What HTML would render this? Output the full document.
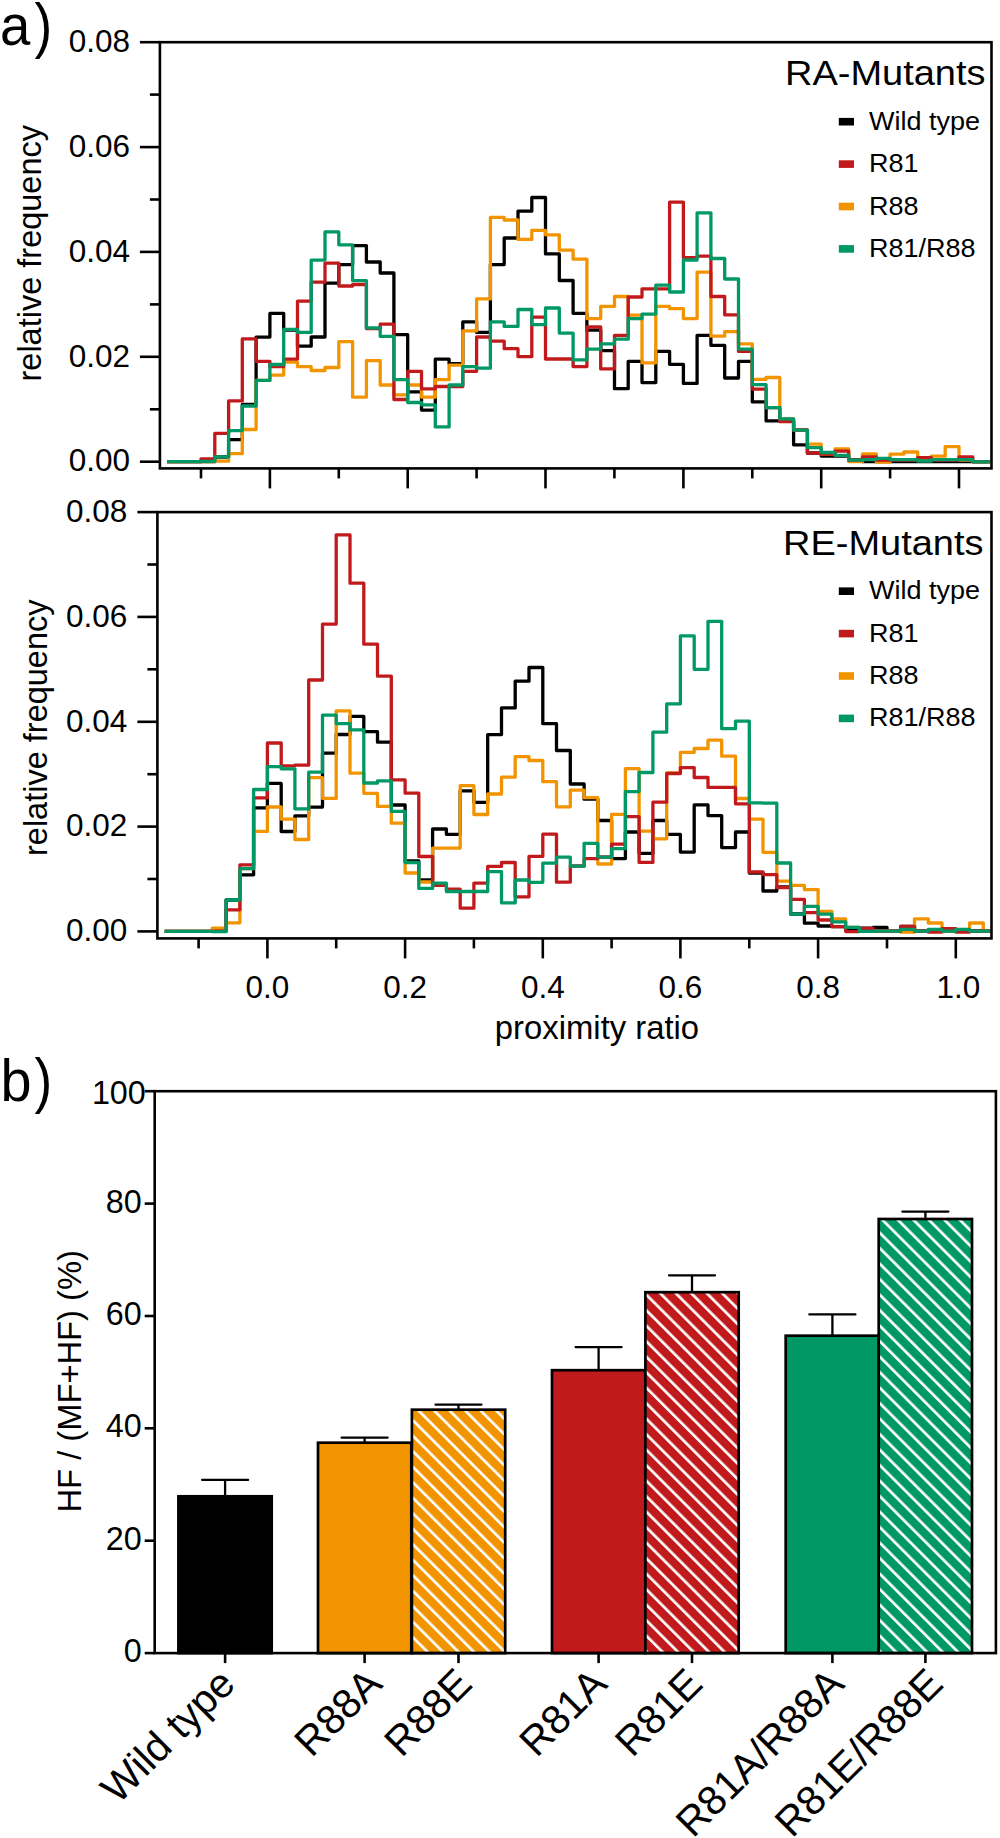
<!DOCTYPE html><html><head><meta charset="utf-8"><style>html,body{margin:0;padding:0;background:#fff;width:1000px;height:1838px;overflow:hidden}</style></head><body><svg width="1000" height="1838" viewBox="0 0 1000 1838" style="display:block">
<rect width="1000" height="1838" fill="#fff"/>
<defs><pattern id="hp2" patternUnits="userSpaceOnUse" width="10.960" height="40" patternTransform="translate(-1.91,0) rotate(-45)"><rect width="10.960" height="40" fill="#f29400"/><rect x="0" width="2.7" height="40" fill="#fff"/></pattern><pattern id="hp4" patternUnits="userSpaceOnUse" width="10.960" height="40" patternTransform="translate(0.59,0) rotate(-45)"><rect width="10.960" height="40" fill="#c01a1c"/><rect x="0" width="2.7" height="40" fill="#fff"/></pattern><pattern id="hp6" patternUnits="userSpaceOnUse" width="10.960" height="40" patternTransform="translate(1.59,0) rotate(-45)"><rect width="10.960" height="40" fill="#009865"/><rect x="0" width="2.7" height="40" fill="#fff"/></pattern></defs>
<path d="M167.1,461.7H214.8V457.0H228.6V439.7H242.3V404.4H256.1V337.1H269.9V313.4H283.7V330.0H297.5V346.2H311.2V337.0H325.0V283.2H338.8V264.6H352.6V245.6H366.4V262.0H380.2V273.0H393.9V334.7H407.7V391.9H421.5V410.1H435.3V359.1H449.1V363.7H462.8V321.8H476.6V332.4H490.4V264.6H504.2V238.0H518.0V211.2H531.8V197.5H545.5V253.9H559.3V280.5H573.1V313.3H586.9V330.1H600.7V350.6H614.5V388.7H628.2V361.3H642.0V382.6H655.8V351.4H669.6V364.3H683.4V383.4H697.1V335.4H710.9V345.3H724.7V378.0H738.5V361.3H752.3V401.9H766.1V420.9H779.8V421.0H793.6V444.8H807.4V453.0H821.2V456.0H848.7V460.0H862.5V461.7H990.2" fill="none" stroke="#000000" stroke-width="3.3" stroke-linejoin="round"/>
<path d="M167.1,461.7H214.8V461.2H228.6V453.7H242.3V429.5H256.1V380.4H269.9V375.1H283.7V362.2H297.5V366.7H311.2V370.5H325.0V367.5H338.8V341.6H352.6V397.2H366.4V360.6H380.2V385.0H393.9V394.9H407.7V385.0H421.5V397.2H435.3V379.7H449.1V365.2H462.8V330.9H476.6V298.9H490.4V217.4H504.2V220.0H518.0V239.4H531.8V230.3H545.5V234.8H559.3V250.1H573.1V259.2H586.9V318.6H600.7V306.4H614.5V296.5H628.2V315.2H642.0V362.8H655.8V306.4H669.6V308.7H683.4V318.6H697.1V272.2H710.9V336.2H724.7V331.6H738.5V343.8H752.3V379.3H766.1V377.5H779.8V419.0H793.6V430.0H807.4V444.1H821.2V454.0H835.0V449.0H848.7V461.6H862.5V454.0H876.3V462.0H890.1V454.1H903.9V452.0H917.7V460.0H931.4V456.2H945.2V446.7H959.0V460.0H972.8V461.8H986.6V461.7H990.2" fill="none" stroke="#f29400" stroke-width="3.3" stroke-linejoin="round"/>
<path d="M167.1,461.7H201.0V458.9H214.8V433.4H228.6V400.9H242.3V338.9H256.1V361.3H269.9V366.7H283.7V359.1H297.5V301.2H311.2V282.2H325.0V263.1H338.8V286.0H352.6V284.5H366.4V328.6H380.2V324.1H393.9V399.5H407.7V371.3H421.5V388.8H435.3V386.5H462.8V371.3H476.6V337.0H490.4V341.2H504.2V348.7H518.0V356.7H531.8V317.1H545.5V359.0H573.1V366.6H586.9V327.0H600.7V368.9H614.5V335.4H628.2V297.0H642.0V288.9H669.6V202.1H683.4V257.7H697.1V256.2H710.9V296.5H724.7V314.8H738.5V351.4H752.3V389.1H766.1V407.7H779.8V421.7H793.6V430.0H807.4V453.2H821.2V454.0H835.0V451.1H848.7V460.0H862.5V456.8H876.3V460.0H917.7V457.6H931.4V460.0H959.0V456.9H972.8V461.8H986.6V461.7H990.2" fill="none" stroke="#c01a1c" stroke-width="3.3" stroke-linejoin="round"/>
<path d="M167.1,461.7H201.0V461.4H214.8V456.9H228.6V430.6H242.3V406.0H256.1V380.3H269.9V364.5H283.7V329.4H297.5V332.4H311.2V260.1H325.0V231.9H338.8V244.8H352.6V280.6H366.4V327.9H380.2V336.3H393.9V379.7H407.7V402.5H421.5V404.8H435.3V426.9H449.1V385.0H462.8V366.7H476.6V368.2H490.4V321.8H504.2V326.4H518.0V309.5H531.8V324.7H545.5V308.0H559.3V333.1H573.1V359.8H586.9V349.1H600.7V343.8H614.5V339.2H628.2V318.6H642.0V314.1H655.8V285.1H669.6V292.0H683.4V260.0H697.1V212.8H710.9V258.5H724.7V279.0H738.5V349.1H752.3V384.7H766.1V407.7H779.8V418.9H793.6V430.1H807.4V447.6H821.2V452.5H835.0V455.3H848.7V460.2H862.5V459.6H876.3V458.3H890.1V459.7H917.7V461.0H931.4V459.7H972.8V461.8H990.2" fill="none" stroke="#009865" stroke-width="3.3" stroke-linejoin="round"/>
<rect x="159.9" y="42.2" width="831.6" height="426.2" fill="none" stroke="#000" stroke-width="2.6"/>
<line x1="139.9" y1="461.7" x2="159.9" y2="461.7" stroke="#000" stroke-width="2.6"/>
<text transform="translate(130.0,471.4)" font-size="31.5" text-anchor="end" fill="#000" font-family="Liberation Sans, sans-serif" >0.00</text>
<line x1="149.9" y1="409.3" x2="159.9" y2="409.3" stroke="#000" stroke-width="2.6"/>
<line x1="139.9" y1="356.8" x2="159.9" y2="356.8" stroke="#000" stroke-width="2.6"/>
<text transform="translate(130.0,366.5)" font-size="31.5" text-anchor="end" fill="#000" font-family="Liberation Sans, sans-serif" >0.02</text>
<line x1="149.9" y1="304.4" x2="159.9" y2="304.4" stroke="#000" stroke-width="2.6"/>
<line x1="139.9" y1="251.9" x2="159.9" y2="251.9" stroke="#000" stroke-width="2.6"/>
<text transform="translate(130.0,261.6)" font-size="31.5" text-anchor="end" fill="#000" font-family="Liberation Sans, sans-serif" >0.04</text>
<line x1="149.9" y1="199.5" x2="159.9" y2="199.5" stroke="#000" stroke-width="2.6"/>
<line x1="139.9" y1="147.1" x2="159.9" y2="147.1" stroke="#000" stroke-width="2.6"/>
<text transform="translate(130.0,156.8)" font-size="31.5" text-anchor="end" fill="#000" font-family="Liberation Sans, sans-serif" >0.06</text>
<line x1="149.9" y1="94.6" x2="159.9" y2="94.6" stroke="#000" stroke-width="2.6"/>
<line x1="139.9" y1="42.2" x2="159.9" y2="42.2" stroke="#000" stroke-width="2.6"/>
<text transform="translate(130.0,51.9)" font-size="31.5" text-anchor="end" fill="#000" font-family="Liberation Sans, sans-serif" >0.08</text>
<line x1="201.0" y1="468.4" x2="201.0" y2="478.4" stroke="#000" stroke-width="2.6"/>
<line x1="269.9" y1="468.4" x2="269.9" y2="488.4" stroke="#000" stroke-width="2.6"/>
<line x1="338.8" y1="468.4" x2="338.8" y2="478.4" stroke="#000" stroke-width="2.6"/>
<line x1="407.7" y1="468.4" x2="407.7" y2="488.4" stroke="#000" stroke-width="2.6"/>
<line x1="476.6" y1="468.4" x2="476.6" y2="478.4" stroke="#000" stroke-width="2.6"/>
<line x1="545.5" y1="468.4" x2="545.5" y2="488.4" stroke="#000" stroke-width="2.6"/>
<line x1="614.4" y1="468.4" x2="614.4" y2="478.4" stroke="#000" stroke-width="2.6"/>
<line x1="683.4" y1="468.4" x2="683.4" y2="488.4" stroke="#000" stroke-width="2.6"/>
<line x1="752.3" y1="468.4" x2="752.3" y2="478.4" stroke="#000" stroke-width="2.6"/>
<line x1="821.2" y1="468.4" x2="821.2" y2="488.4" stroke="#000" stroke-width="2.6"/>
<line x1="890.1" y1="468.4" x2="890.1" y2="478.4" stroke="#000" stroke-width="2.6"/>
<line x1="959.0" y1="468.4" x2="959.0" y2="488.4" stroke="#000" stroke-width="2.6"/>
<path d="M164.7,931.4H212.3V930.4H226.1V900.0H239.9V874.8H253.6V807.8H267.4V783.4H281.2V831.5H294.9V815.8H308.7V807.1H322.5V753.2H336.2V734.5H350.0V716.3H363.8V731.6H377.5V742.2H391.3V805.0H405.1V861.0H418.8V880.0H432.6V829.0H446.4V834.3H460.2V790.9H473.9V802.3H487.7V734.6H501.5V707.9H515.2V681.2H529.0V667.5H542.8V723.7H556.5V750.5H570.3V784.0H584.1V799.2H597.8V820.5H611.6V858.6H625.4V832.0H639.1V853.3H652.9V820.5H666.7V834.4H680.4V852.1H694.2V804.9H708.0V815.6H721.7V847.6H735.5V832.0H749.3V873.0H763.0V891.0H776.8V887.0H790.6V914.0H804.4V923.2H818.1V926.0H831.9V926.7H845.7V929.0H859.4V928.1H873.2V927.5H887.0V931.0H900.7V926.3H914.5V931.0H983.3V931.2H990.2" fill="none" stroke="#000000" stroke-width="3.3" stroke-linejoin="round"/>
<path d="M164.7,931.4H212.3V928.1H226.1V922.8H239.9V868.7H253.6V831.4H267.4V807.0H281.2V819.1H294.9V839.5H308.7V777.6H322.5V798.4H336.2V710.8H350.0V773.2H363.8V793.3H377.5V806.4H391.3V823.2H405.1V873.0H418.8V882.0H432.6V848.1H460.2V785.6H473.9V814.5H487.7V794.0H501.5V777.2H515.2V756.6H529.0V760.5H542.8V781.7H556.5V806.8H570.3V790.1H584.1V797.7H597.8V864.0H611.6V814.4H625.4V768.7H639.1V831.2H652.9V838.8H666.7V773.0H680.4V752.3H694.2V748.5H708.0V740.2H721.7V756.2H735.5V798.5H749.3V819.2H763.0V852.3H776.8V881.2H790.6V885.4H804.4V889.6H818.1V911.3H831.9V919.0H845.7V927.4H859.4V931.0H900.7V932.0H914.5V918.8H928.3V923.0H942.0V931.0H969.6V923.0H983.3V931.4H990.2" fill="none" stroke="#f29400" stroke-width="3.3" stroke-linejoin="round"/>
<path d="M164.7,931.4H226.1V909.8H239.9V864.9H253.6V797.9H267.4V743.0H281.2V765.8H294.9V765.2H308.7V680.0H322.5V624.1H336.2V534.8H350.0V583.2H363.8V644.2H377.5V676.2H391.3V779.8H405.1V793.2H418.8V856.5H432.6V885.4H446.4V889.2H460.2V908.2H473.9V883.1H487.7V866.3H501.5V862.5H515.2V896.8H529.0V856.4H542.8V834.2H556.5V882.2H570.3V866.0H584.1V858.6H597.8V857.0H611.6V844.1H625.4V816.7H639.1V862.4H652.9V802.2H666.7V773.5H680.4V767.6H694.2V777.5H708.0V787.4H735.5V803.8H749.3V872.0H763.0V874.6H776.8V887.5H790.6V899.4H804.4V912.7H818.1V920.0H831.9V926.7H845.7V931.6H859.4V928.5H873.2V931.0H900.7V926.3H914.5V931.0H928.3V932.0H942.0V928.7H955.8V932.0H969.6V931.0H983.3V931.2H990.2" fill="none" stroke="#c01a1c" stroke-width="3.3" stroke-linejoin="round"/>
<path d="M164.7,931.4H212.3V931.6H226.1V900.0H239.9V868.7H253.6V789.5H267.4V766.6H281.2V768.8H294.9V808.8H308.7V772.1H322.5V715.2H336.2V723.6H350.0V729.8H363.8V783.0H377.5V780.8H391.3V811.3H405.1V862.5H418.8V888.4H432.6V883.1H446.4V891.5H487.7V871.7H501.5V902.9H515.2V880.0H529.0V882.3H542.8V863.2H556.5V857.1H570.3V866.2H584.1V843.4H597.8V857.1H611.6V848.7H625.4V791.6H639.1V772.5H652.9V732.2H666.7V703.8H680.4V635.8H694.2V669.3H708.0V621.3H721.7V728.7H735.5V721.1H749.3V802.8H763.0V803.1H776.8V863.0H790.6V914.1H804.4V906.4H818.1V914.1H831.9V921.8H845.7V927.4H859.4V931.4H873.2V931.2H900.7V929.3H914.5V931.2H928.3V929.3H942.0V931.2H955.8V929.3H969.6V931.2H990.2" fill="none" stroke="#009865" stroke-width="3.3" stroke-linejoin="round"/>
<rect x="157.4" y="512.1" width="834.1" height="426.29999999999995" fill="none" stroke="#000" stroke-width="2.6"/>
<line x1="137.4" y1="931.4" x2="157.4" y2="931.4" stroke="#000" stroke-width="2.6"/>
<text transform="translate(127.2,941.1)" font-size="31.5" text-anchor="end" fill="#000" font-family="Liberation Sans, sans-serif" >0.00</text>
<line x1="147.4" y1="879.0" x2="157.4" y2="879.0" stroke="#000" stroke-width="2.6"/>
<line x1="137.4" y1="826.6" x2="157.4" y2="826.6" stroke="#000" stroke-width="2.6"/>
<text transform="translate(127.2,836.3)" font-size="31.5" text-anchor="end" fill="#000" font-family="Liberation Sans, sans-serif" >0.02</text>
<line x1="147.4" y1="774.2" x2="157.4" y2="774.2" stroke="#000" stroke-width="2.6"/>
<line x1="137.4" y1="721.8" x2="157.4" y2="721.8" stroke="#000" stroke-width="2.6"/>
<text transform="translate(127.2,731.5)" font-size="31.5" text-anchor="end" fill="#000" font-family="Liberation Sans, sans-serif" >0.04</text>
<line x1="147.4" y1="669.3" x2="157.4" y2="669.3" stroke="#000" stroke-width="2.6"/>
<line x1="137.4" y1="616.9" x2="157.4" y2="616.9" stroke="#000" stroke-width="2.6"/>
<text transform="translate(127.2,626.6)" font-size="31.5" text-anchor="end" fill="#000" font-family="Liberation Sans, sans-serif" >0.06</text>
<line x1="147.4" y1="564.5" x2="157.4" y2="564.5" stroke="#000" stroke-width="2.6"/>
<line x1="137.4" y1="512.1" x2="157.4" y2="512.1" stroke="#000" stroke-width="2.6"/>
<text transform="translate(127.2,521.8)" font-size="31.5" text-anchor="end" fill="#000" font-family="Liberation Sans, sans-serif" >0.08</text>
<line x1="198.6" y1="938.4" x2="198.6" y2="948.4" stroke="#000" stroke-width="2.6"/>
<line x1="267.4" y1="938.4" x2="267.4" y2="958.4" stroke="#000" stroke-width="2.6"/>
<text transform="translate(267.4,998.0)" font-size="31.5" text-anchor="middle" fill="#000" font-family="Liberation Sans, sans-serif" >0.0</text>
<line x1="336.2" y1="938.4" x2="336.2" y2="948.4" stroke="#000" stroke-width="2.6"/>
<line x1="405.1" y1="938.4" x2="405.1" y2="958.4" stroke="#000" stroke-width="2.6"/>
<text transform="translate(405.1,998.0)" font-size="31.5" text-anchor="middle" fill="#000" font-family="Liberation Sans, sans-serif" >0.2</text>
<line x1="473.9" y1="938.4" x2="473.9" y2="948.4" stroke="#000" stroke-width="2.6"/>
<line x1="542.8" y1="938.4" x2="542.8" y2="958.4" stroke="#000" stroke-width="2.6"/>
<text transform="translate(542.8,998.0)" font-size="31.5" text-anchor="middle" fill="#000" font-family="Liberation Sans, sans-serif" >0.4</text>
<line x1="611.6" y1="938.4" x2="611.6" y2="948.4" stroke="#000" stroke-width="2.6"/>
<line x1="680.4" y1="938.4" x2="680.4" y2="958.4" stroke="#000" stroke-width="2.6"/>
<text transform="translate(680.4,998.0)" font-size="31.5" text-anchor="middle" fill="#000" font-family="Liberation Sans, sans-serif" >0.6</text>
<line x1="749.3" y1="938.4" x2="749.3" y2="948.4" stroke="#000" stroke-width="2.6"/>
<line x1="818.1" y1="938.4" x2="818.1" y2="958.4" stroke="#000" stroke-width="2.6"/>
<text transform="translate(818.1,998.0)" font-size="31.5" text-anchor="middle" fill="#000" font-family="Liberation Sans, sans-serif" >0.8</text>
<line x1="887.0" y1="938.4" x2="887.0" y2="948.4" stroke="#000" stroke-width="2.6"/>
<line x1="955.8" y1="938.4" x2="955.8" y2="958.4" stroke="#000" stroke-width="2.6"/>
<text transform="translate(958.3,998.0)" font-size="31.5" text-anchor="middle" fill="#000" font-family="Liberation Sans, sans-serif" >1.0</text>
<text transform="translate(985.5,84.8) scale(1.055,1)" font-size="36" text-anchor="end" fill="#000" font-family="Liberation Sans, sans-serif" >RA-Mutants</text>
<rect x="838.8" y="117.9" width="15.2" height="7.6" fill="#000000"/>
<text transform="translate(869.0,129.7) scale(1.02,1)" font-size="26.5" text-anchor="start" fill="#000" font-family="Liberation Sans, sans-serif" >Wild type</text>
<rect x="838.8" y="160.3" width="15.2" height="7.6" fill="#c01a1c"/>
<text transform="translate(869.0,172.1) scale(1.02,1)" font-size="26.5" text-anchor="start" fill="#000" font-family="Liberation Sans, sans-serif" >R81</text>
<rect x="838.8" y="202.7" width="15.2" height="7.6" fill="#f29400"/>
<text transform="translate(869.0,214.5) scale(1.02,1)" font-size="26.5" text-anchor="start" fill="#000" font-family="Liberation Sans, sans-serif" >R88</text>
<rect x="838.8" y="245.1" width="15.2" height="7.6" fill="#009865"/>
<text transform="translate(869.0,256.9) scale(1.02,1)" font-size="26.5" text-anchor="start" fill="#000" font-family="Liberation Sans, sans-serif" >R81/R88</text>
<text transform="translate(983.5,555.4) scale(1.055,1)" font-size="36" text-anchor="end" fill="#000" font-family="Liberation Sans, sans-serif" >RE-Mutants</text>
<rect x="838.8" y="587.4" width="15.2" height="7.6" fill="#000000"/>
<text transform="translate(869.0,599.2) scale(1.02,1)" font-size="26.5" text-anchor="start" fill="#000" font-family="Liberation Sans, sans-serif" >Wild type</text>
<rect x="838.8" y="629.8" width="15.2" height="7.6" fill="#c01a1c"/>
<text transform="translate(869.0,641.6) scale(1.02,1)" font-size="26.5" text-anchor="start" fill="#000" font-family="Liberation Sans, sans-serif" >R81</text>
<rect x="838.8" y="672.2" width="15.2" height="7.6" fill="#f29400"/>
<text transform="translate(869.0,684.0) scale(1.02,1)" font-size="26.5" text-anchor="start" fill="#000" font-family="Liberation Sans, sans-serif" >R88</text>
<rect x="838.8" y="714.6" width="15.2" height="7.6" fill="#009865"/>
<text transform="translate(869.0,726.4) scale(1.02,1)" font-size="26.5" text-anchor="start" fill="#000" font-family="Liberation Sans, sans-serif" >R81/R88</text>
<text transform="translate(41.0,381.5) rotate(-90)" font-size="32.5" text-anchor="start" fill="#000" font-family="Liberation Sans, sans-serif" >relative frequency</text>
<text transform="translate(47.0,856.0) rotate(-90)" font-size="32.5" text-anchor="start" fill="#000" font-family="Liberation Sans, sans-serif" >relative frequency</text>
<text transform="translate(597.0,1039.4) scale(1.01,1)" font-size="32.5" text-anchor="middle" fill="#000" font-family="Liberation Sans, sans-serif" >proximity ratio</text>
<text transform="translate(0.0,45.4) scale(0.94,1)" font-size="58" text-anchor="start" fill="#000" font-family="Liberation Sans, sans-serif" >a</text>
<text transform="translate(34.6,45.6) scale(0.87,1)" font-size="61" text-anchor="start" fill="#000" font-family="Liberation Sans, sans-serif" >)</text>
<text transform="translate(0.6,1101.0) scale(0.93,1)" font-size="60" text-anchor="start" fill="#000" font-family="Liberation Sans, sans-serif" >b</text>
<text transform="translate(34.6,1101.2) scale(0.87,1)" font-size="61" text-anchor="start" fill="#000" font-family="Liberation Sans, sans-serif" >)</text>
<line x1="225.1" y1="1496.3" x2="225.1" y2="1479.9" stroke="#000" stroke-width="2.3"/>
<line x1="202.1" y1="1479.9" x2="248.1" y2="1479.9" stroke="#000" stroke-width="2.3" stroke-linecap="round"/>
<rect x="178.4" y="1496.3" width="93.3" height="156.8" fill="#000000" stroke="#000" stroke-width="2.7"/>
<line x1="225.1" y1="1653.1" x2="225.1" y2="1663.1" stroke="#000" stroke-width="2.6"/>
<text transform="translate(237.1,1686.0) rotate(-45)" font-size="41" text-anchor="end" fill="#000" font-family="Liberation Sans, sans-serif" >Wild type</text>
<line x1="364.6" y1="1442.7" x2="364.6" y2="1437.6" stroke="#000" stroke-width="2.3"/>
<line x1="341.6" y1="1437.6" x2="387.6" y2="1437.6" stroke="#000" stroke-width="2.3" stroke-linecap="round"/>
<rect x="318.0" y="1442.7" width="93.3" height="210.4" fill="#f29400" stroke="#000" stroke-width="2.7"/>
<line x1="364.6" y1="1653.1" x2="364.6" y2="1663.1" stroke="#000" stroke-width="2.6"/>
<text transform="translate(384.0,1686.0) rotate(-45)" font-size="41" text-anchor="end" fill="#000" font-family="Liberation Sans, sans-serif" >R88A</text>
<line x1="458.5" y1="1409.7" x2="458.5" y2="1404.6" stroke="#000" stroke-width="2.3"/>
<line x1="435.5" y1="1404.6" x2="481.5" y2="1404.6" stroke="#000" stroke-width="2.3" stroke-linecap="round"/>
<rect x="411.9" y="1409.7" width="93.3" height="243.4" fill="url(#hp2)" stroke="#000" stroke-width="2.7"/>
<line x1="458.5" y1="1653.1" x2="458.5" y2="1663.1" stroke="#000" stroke-width="2.6"/>
<text transform="translate(474.0,1686.0) rotate(-45)" font-size="41" text-anchor="end" fill="#000" font-family="Liberation Sans, sans-serif" >R88E</text>
<line x1="598.6" y1="1370.2" x2="598.6" y2="1347.1" stroke="#000" stroke-width="2.3"/>
<line x1="575.6" y1="1347.1" x2="621.6" y2="1347.1" stroke="#000" stroke-width="2.3" stroke-linecap="round"/>
<rect x="552.0" y="1370.2" width="93.3" height="282.9" fill="#c01a1c" stroke="#000" stroke-width="2.7"/>
<line x1="598.6" y1="1653.1" x2="598.6" y2="1663.1" stroke="#000" stroke-width="2.6"/>
<text transform="translate(609.0,1686.0) rotate(-45)" font-size="41" text-anchor="end" fill="#000" font-family="Liberation Sans, sans-serif" >R81A</text>
<line x1="692.0" y1="1292.2" x2="692.0" y2="1275.3" stroke="#000" stroke-width="2.3"/>
<line x1="669.0" y1="1275.3" x2="715.0" y2="1275.3" stroke="#000" stroke-width="2.3" stroke-linecap="round"/>
<rect x="645.4" y="1292.2" width="93.3" height="360.9" fill="url(#hp4)" stroke="#000" stroke-width="2.7"/>
<line x1="692.0" y1="1653.1" x2="692.0" y2="1663.1" stroke="#000" stroke-width="2.6"/>
<text transform="translate(704.7,1686.0) rotate(-45)" font-size="41" text-anchor="end" fill="#000" font-family="Liberation Sans, sans-serif" >R81E</text>
<line x1="832.4" y1="1335.7" x2="832.4" y2="1314.4" stroke="#000" stroke-width="2.3"/>
<line x1="809.4" y1="1314.4" x2="855.4" y2="1314.4" stroke="#000" stroke-width="2.3" stroke-linecap="round"/>
<rect x="785.7" y="1335.7" width="93.3" height="317.4" fill="#009865" stroke="#000" stroke-width="2.7"/>
<line x1="832.4" y1="1653.1" x2="832.4" y2="1663.1" stroke="#000" stroke-width="2.6"/>
<text transform="translate(846.0,1686.0) rotate(-45)" font-size="41" text-anchor="end" fill="#000" font-family="Liberation Sans, sans-serif" >R81A/R88A</text>
<line x1="925.4" y1="1219.0" x2="925.4" y2="1211.6" stroke="#000" stroke-width="2.3"/>
<line x1="902.4" y1="1211.6" x2="948.4" y2="1211.6" stroke="#000" stroke-width="2.3" stroke-linecap="round"/>
<rect x="878.7" y="1219.0" width="93.3" height="434.1" fill="url(#hp6)" stroke="#000" stroke-width="2.7"/>
<line x1="925.4" y1="1653.1" x2="925.4" y2="1663.1" stroke="#000" stroke-width="2.6"/>
<text transform="translate(945.0,1686.0) rotate(-45)" font-size="41" text-anchor="end" fill="#000" font-family="Liberation Sans, sans-serif" >R81E/R88E</text>
<rect x="154.7" y="1091.2" width="841.2" height="561.8999999999999" fill="none" stroke="#000" stroke-width="2.6"/>
<line x1="144.7" y1="1653.1" x2="154.7" y2="1653.1" stroke="#000" stroke-width="2.6"/>
<text transform="translate(141.7,1662.2) scale(0.965,1)" font-size="33.5" text-anchor="end" fill="#000" font-family="Liberation Sans, sans-serif" >0</text>
<line x1="144.7" y1="1540.7" x2="154.7" y2="1540.7" stroke="#000" stroke-width="2.6"/>
<text transform="translate(141.7,1549.8) scale(0.965,1)" font-size="33.5" text-anchor="end" fill="#000" font-family="Liberation Sans, sans-serif" >20</text>
<line x1="144.7" y1="1428.3" x2="154.7" y2="1428.3" stroke="#000" stroke-width="2.6"/>
<text transform="translate(141.7,1437.4) scale(0.965,1)" font-size="33.5" text-anchor="end" fill="#000" font-family="Liberation Sans, sans-serif" >40</text>
<line x1="144.7" y1="1316.0" x2="154.7" y2="1316.0" stroke="#000" stroke-width="2.6"/>
<text transform="translate(141.7,1325.1) scale(0.965,1)" font-size="33.5" text-anchor="end" fill="#000" font-family="Liberation Sans, sans-serif" >60</text>
<line x1="144.7" y1="1203.6" x2="154.7" y2="1203.6" stroke="#000" stroke-width="2.6"/>
<text transform="translate(141.7,1212.7) scale(0.965,1)" font-size="33.5" text-anchor="end" fill="#000" font-family="Liberation Sans, sans-serif" >80</text>
<line x1="144.7" y1="1091.2" x2="154.7" y2="1091.2" stroke="#000" stroke-width="2.6"/>
<text transform="translate(145.8,1103.5) scale(0.965,1)" font-size="33.5" text-anchor="end" fill="#000" font-family="Liberation Sans, sans-serif" >100</text>
<text transform="translate(81.4,1512.5) rotate(-90)" font-size="32.7" text-anchor="start" fill="#000" font-family="Liberation Sans, sans-serif" >HF / (MF+HF) (%)</text>
</svg></body></html>
